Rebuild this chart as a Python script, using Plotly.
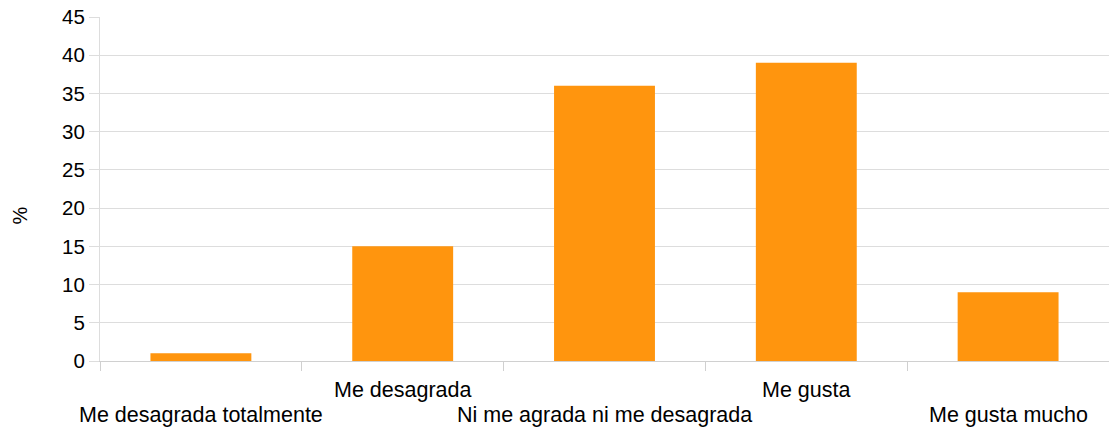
import plotly.graph_objects as go

categories = ["Me desagrada totalmente", "Me desagrada", "Ni me agrada ni me desagrada", "Me gusta", "Me gusta mucho"]
values = [1, 15, 36, 39, 9]
y_ticks = [0, 5, 10, 15, 20, 25, 30, 35, 40, 45]
y_title = "%"

fig = go.Figure(go.Bar(x=categories, y=values, marker=dict(color="#ff950e", line=dict(width=0))))

# staggered category labels (even index on the lower row)
for i, c in enumerate(categories):
    fig.add_annotation(
        x=c, y=0, xref="x", yref="y", text=c, showarrow=False,
        xanchor="center", yanchor="middle",
        yshift=-53.5 if i % 2 == 0 else -29,
        font=dict(size=21.5, color="#000000"),
    )

fig.add_annotation(
    x=0, y=0.423, xref="paper", yref="paper", text=y_title, showarrow=False,
    textangle=-90, xanchor="center", yanchor="middle", xshift=-80,
    font=dict(size=20, color="#000000"),
)

fig.update_layout(
    width=1109, height=431,
    margin=dict(l=100, r=0, t=17, b=70),
    paper_bgcolor="white", plot_bgcolor="white",
    bargap=0.5,
    font=dict(family="Liberation Sans, Arial, sans-serif", size=21, color="#000000"),
    showlegend=False,
)
fig.update_xaxes(
    type="category", range=[-0.5, len(categories) - 0.5],
    tickson="boundaries", ticks="outside", ticklen=9,
    tickcolor="#d0d0d0", tickwidth=1, showticklabels=False,
    showgrid=False, showline=True, linecolor="#d0d0d0", linewidth=1,
    automargin=False,
)
fig.update_yaxes(
    range=[0, 45], tickvals=y_ticks, ticks="outside", ticklen=10, tickcolor="#dddddd",
    showgrid=True, gridcolor="#dddddd", gridwidth=1,
    showline=True, linecolor="#dddddd", linewidth=1,
    zeroline=False, tickfont=dict(size=20.5), automargin=False,
)
fig.write_html(
    "out.html",
    config={"displayModeBar": False},
    post_script="document.body.style.margin='0';document.body.style.padding='0';",
)
